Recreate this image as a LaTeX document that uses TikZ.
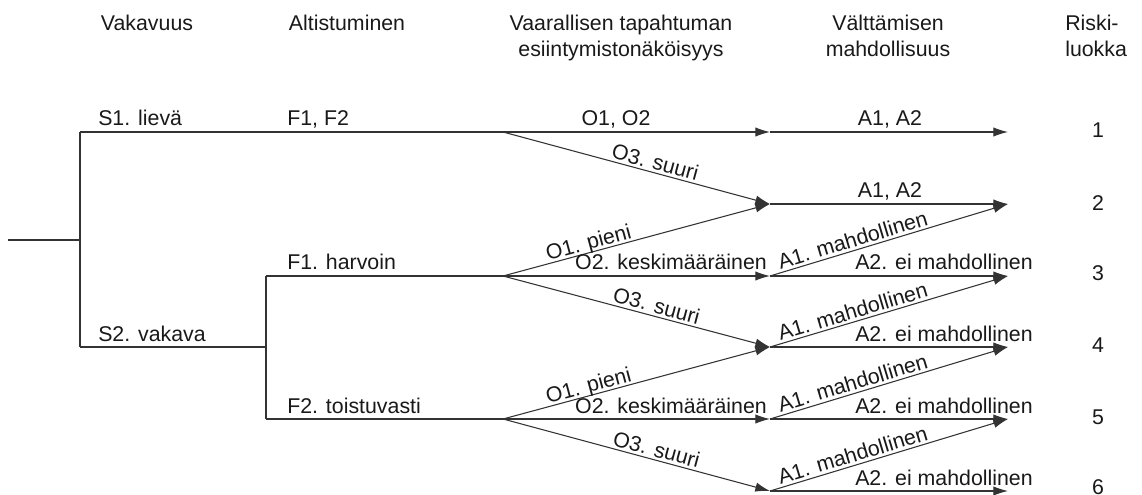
\documentclass[tikz,border=0pt]{standalone}
\usepackage{fontspec}
\setmainfont{Liberation Sans}
\usetikzlibrary{arrows.meta}
\begin{document}
\begin{tikzpicture}[x=0.75pt,y=-0.75pt,
  ln/.style={draw=black!80, line width=0.8pt},
  arr/.style={ln, -{Latex[length=11pt,width=7pt]}},
  lab/.style={font=\fontsize{16}{19}\selectfont, text=black!90, inner sep=0pt},
  slab/.style={lab, sloped, above, inner sep=2pt, text depth=0pt},
  hdr/.style={lab, align=center}]
\useasboundingbox (0,0) rectangle (1142,495);
% coordinates
\coordinate (r0) at (8,240);
\coordinate (j0) at (80,240);
\coordinate (s1) at (80,132);
\coordinate (s2) at (80,347);
\coordinate (j1) at (266,347);
\coordinate (f1) at (266,276);
\coordinate (f2) at (266,419);
\coordinate (b1) at (503,132);
\coordinate (b2) at (503,276);
\coordinate (b3) at (503,419);
\foreach \i/\y in {1/132,2/204,3/276,4/347,5/419,6/491}{
  \coordinate (m\i) at (770,\y);
  \coordinate (e\i) at (1008,\y);
}
% tree
\draw[ln] (r0) -- (j0);
\draw[ln] (s1) -- (s2);
\draw[ln] (s1) -- (b1);
\draw[ln] (s2) -- (j1);
\draw[ln] (f1) -- (f2);
\draw[ln] (f1) -- (b2);
\draw[ln] (f2) -- (b3);
\draw[arr] (b1) -- (m1);
\draw[arr] (b1) -- node[slab,pos=0.56] (o3a) {O3. suuri} (m2);
\draw[arr] (b2) -- node[slab,pos=0.33] (o1a) {O1. pieni} (m2);
\draw[arr] (b2) -- (m3);
\draw[arr] (b2) -- node[slab,pos=0.565] (o3b) {O3. suuri} (m4);
\draw[arr] (b3) -- node[slab,pos=0.33] (o1b) {O1. pieni} (m4);
\draw[arr] (b3) -- (m5);
\draw[arr] (b3) -- node[slab,pos=0.565] (o3c) {O3. suuri} (m6);
\draw[arr] (m1) -- (e1);
\draw[arr] (m2) -- (e2);
\foreach \i/\j in {3/2,4/3,5/4,6/5}{
  \draw[arr] (m\i) -- node[slab,pos=0.36] (a1\i) {A1. mahdollinen} (e\j);
  \draw[arr] (m\i) -- (e\i);
}
% horizontal labels
\node[lab, anchor=base west] (ls1) at (98,126) {S1. lievä};
\node[lab, anchor=base west] (ls2) at (98,341) {S2. vakava};
\node[lab, anchor=base west] (lf12) at (287,126) {F1, F2};
\node[lab, anchor=base west] (lf1) at (287,270) {F1. harvoin};
\node[lab, anchor=base west] (lf2) at (287,413) {F2. toistuvasti};
\node[lab, anchor=base] (lo12) at (616,126) {O1, O2};
\node[lab, anchor=base] (la1) at (890,126) {A1, A2};
\node[lab, anchor=base] (la2) at (890,198) {A1, A2};
\node[lab, anchor=base] (lo2a) at (671,270) {O2. keskimääräinen};
\node[lab, anchor=base] (lo2b) at (671,413) {O2. keskimääräinen};
\foreach \i/\y in {3/270,4/341,5/413,6/485}{
  \node[lab, anchor=base] (a2\i) at (944,\y) {A2. ei mahdollinen};
}
% risk classes
\foreach \i/\y in {1/130,2/203,3/273,4/345,5/417,6/487}{
  \node[lab] (rk\i) at (1098,\y) {\i};
}
% headers
\node[lab, anchor=base] (hv) at (147,31) {Vakavuus};
\node[lab, anchor=base] (ha) at (347,31) {Altistuminen};
\node[hdr, anchor=north] (ho) at (621,15) {Vaarallisen tapahtuman\\esiintymistonäköisyys};
\node[hdr, anchor=north] (hm) at (888,15) {Välttämisen\\mahdollisuus};
\node[lab, align=left, anchor=north west] (hr) at (1065,15) {Riski-\\luokka};
\end{tikzpicture}
\end{document}
